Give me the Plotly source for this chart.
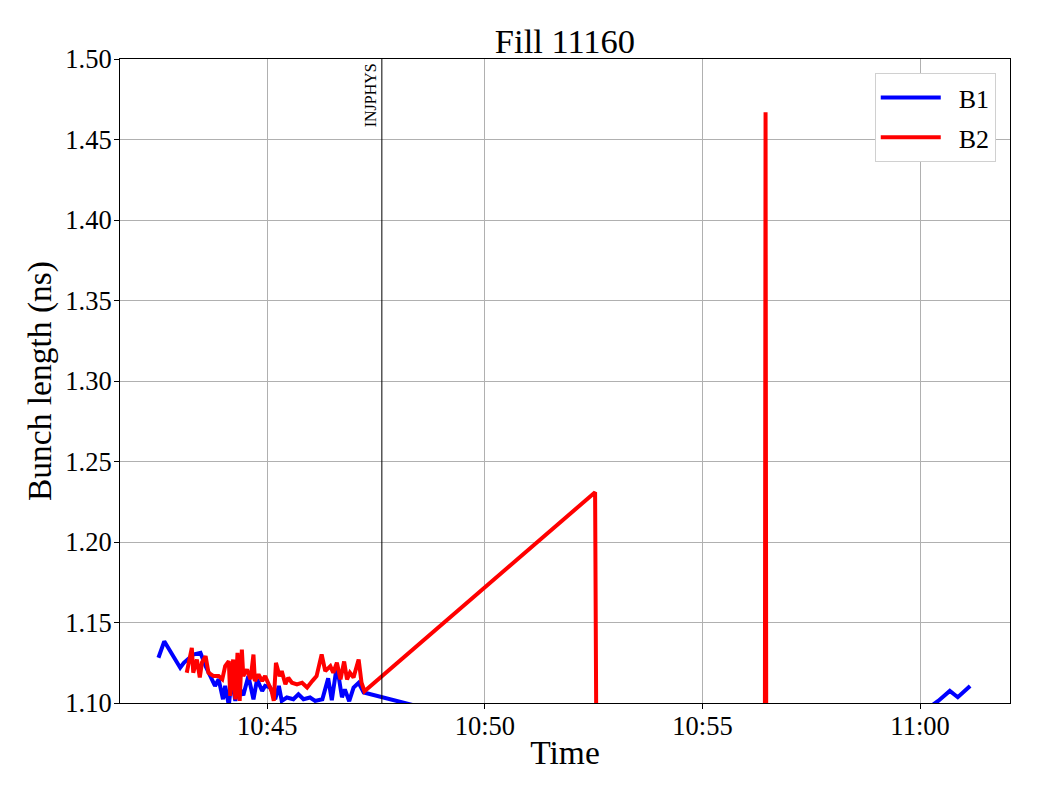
import plotly.graph_objects as go

DAY = "2025-06-01 "

b1_times = ["10:42:30", "10:42:38", "10:43:00", "10:43:05", "10:43:18", "10:43:28", "10:43:35",
            "10:43:41", "10:43:48", "10:43:53", "10:43:59", "10:44:02", "10:44:07", "10:44:11",
            "10:44:16", "10:44:20", "10:44:27", "10:44:34", "10:44:41", "10:44:46", "10:44:53",
            "10:44:57", "10:45:04", "10:45:11", "10:45:16", "10:45:20", "10:45:27", "10:45:36",
            "10:45:43", "10:45:50", "10:45:59", "10:46:06", "10:46:16", "10:46:24", "10:46:29",
            "10:46:36", "10:46:43", "10:46:47", "10:46:53", "10:46:59", "10:47:06", "10:47:13",
            "10:50:21", "10:55:00", "10:59:40", "11:00:18", "11:00:25", "11:00:41", "11:00:52",
            "11:01:09"]
b1_values = [1.1281, 1.1383, 1.1219, 1.1250, 1.1301, 1.1312, 1.1229,
             1.1167, 1.1106, 1.1147, 1.1023, 1.1106, 1.0986, 1.1147,
             1.1013, 1.1106, 1.1048, 1.1167, 1.1023, 1.1147, 1.1075,
             1.1106, 1.1097, 1.1023, 1.1106, 1.1013, 1.1034, 1.1023,
             1.1054, 1.1023, 1.1034, 1.1013, 1.1023, 1.1153, 1.1017,
             1.1233, 1.1036, 1.1085, 1.1011, 1.1096, 1.1126, 1.1065,
             1.0849, 1.0830, 1.0800, 1.0990, 1.1013, 1.1075, 1.1036,
             1.1106]

b2_times = ["10:43:09", "10:43:16", "10:43:18", "10:43:23", "10:43:27", "10:43:30", "10:43:35",
            "10:43:39", "10:43:46", "10:43:53", "10:43:58", "10:44:02", "10:44:07", "10:44:09",
            "10:44:13", "10:44:16", "10:44:19", "10:44:22", "10:44:25", "10:44:27", "10:44:32",
            "10:44:37", "10:44:41", "10:44:43", "10:44:48", "10:44:53", "10:44:57", "10:45:02",
            "10:45:06", "10:45:09", "10:45:12", "10:45:17", "10:45:20", "10:45:25", "10:45:29",
            "10:45:34", "10:45:41", "10:45:48", "10:45:55", "10:46:02", "10:46:08", "10:46:15",
            "10:46:20", "10:46:27", "10:46:31", "10:46:36", "10:46:41", "10:46:46", "10:46:50",
            "10:46:54", "10:46:59", "10:47:06", "10:47:10", "10:47:14", "10:52:32", "10:52:34",
            "10:54:30", "10:56:26", "10:56:27", "10:56:28", "10:59:00", "11:01:10"]
b2_values = [1.1188, 1.1342, 1.1188, 1.1270, 1.1159, 1.1252, 1.1291,
             1.1188, 1.1167, 1.1167, 1.1147, 1.1229, 1.1260, 1.1044,
             1.1270, 1.1023, 1.1312, 1.1013, 1.1332, 1.1167, 1.1209,
             1.1147, 1.1301, 1.1136, 1.1178, 1.1136, 1.1167, 1.1116,
             1.1075, 1.1013, 1.1250, 1.1167, 1.1198, 1.1116, 1.1157,
             1.1126, 1.1116, 1.1126, 1.1096, 1.1136, 1.1167, 1.1301,
             1.1198, 1.1229, 1.1188, 1.1250, 1.1147, 1.1258, 1.1147,
             1.1188, 1.1159, 1.1270, 1.1126, 1.1073, 1.2309, 1.0500,
             1.0500, 1.0500, 1.4669, 1.0500, 1.0500, 1.0500]

marker_time = "10:47:38"
marker_label = "INJPHYS"
x_range = ["10:41:37", "11:02:04"]
y_range = [1.10, 1.50]

FONT = "Liberation Serif, Times New Roman, serif"
NB = "\u00a0"

fig = go.Figure()
fig.add_trace(go.Scatter(x=[DAY + t for t in b1_times], y=b1_values, mode="lines",
                         name=NB * 2 + "B1", legendgroup="b1",
                         line=dict(color="#0000ff", width=4)))
fig.add_trace(go.Scatter(x=[DAY + t for t in b2_times], y=b2_values, mode="lines",
                         name=NB * 2 + "B2", legendgroup="b2",
                         line=dict(color="#ff0000", width=4)))

fig.add_shape(type="line", xref="x", yref="paper", x0=DAY + marker_time, x1=DAY + marker_time,
              y0=0, y1=1, line=dict(color="black", width=1))
fig.add_annotation(x=DAY + marker_time, y=1, xref="x", yref="paper", text=marker_label,
                   textangle=-90, showarrow=False, xanchor="right", yanchor="top",
                   xshift=-1, yshift=-2, font=dict(family=FONT, size=16, color="black"))

fig.update_layout(
    width=1032, height=792,
    margin=dict(l=112, r=30, t=51, b=97),
    paper_bgcolor="white", plot_bgcolor="white",
    font=dict(family=FONT, color="black", size=26),
    title=dict(text="Fill 11160", x=0.5, xanchor="center", xref="paper",
               y=1 - 33 / 792, yanchor="middle", font=dict(size=34.5)),
    showlegend=True,
    legend=dict(x=0.984, y=0.978, xanchor="right", yanchor="top",
                bgcolor="white", bordercolor="#d0d0d0", borderwidth=1,
                font=dict(size=26), itemwidth=60, tracegroupgap=3,
                traceorder="grouped"),
)
fig.update_xaxes(
    type="date", range=[DAY + x_range[0], DAY + x_range[1]],
    tick0=DAY + "10:45:00", dtick=300000, tickformat="%H:%M",
    showgrid=True, gridcolor="#b0b0b0", gridwidth=1,
    showline=True, linecolor="black", linewidth=1, mirror=True,
    ticks="outside", ticklen=5, tickcolor="black",
    tickfont=dict(size=26.5), ticklabelstandoff=-6,
    title=dict(text="Time", font=dict(size=33.5), standoff=0),
    zeroline=False,
)
fig.update_yaxes(
    range=y_range, tick0=1.10, dtick=0.05, tickformat=".2f",
    showgrid=True, gridcolor="#b0b0b0", gridwidth=1,
    showline=True, linecolor="black", linewidth=1, mirror=True,
    ticks="outside", ticklen=5, tickcolor="black",
    tickfont=dict(size=26.5), ticklabelstandoff=-3,
    title=dict(text="Bunch length (ns)", font=dict(size=33.5), standoff=3),
    zeroline=False,
)

fig.write_html("out.html")
